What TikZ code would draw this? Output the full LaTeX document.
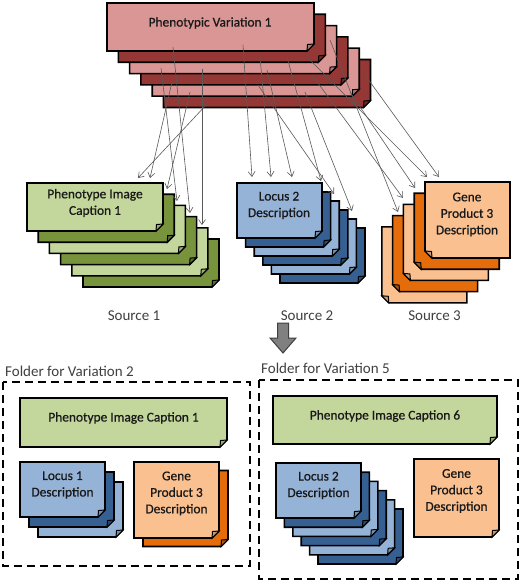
\documentclass[tikz,border=0pt]{standalone}
\usepackage{fontspec}
\setmainfont{Carlito}
\newfontfamily\cardfont[FakeBold=0.7]{Carlito}
\usetikzlibrary{arrows.meta}
\definecolor{redL}{HTML}{D99694}
\definecolor{redD}{HTML}{953735}
\definecolor{redLf}{HTML}{AE7876}
\definecolor{redDf}{HTML}{6E2826}
\definecolor{grnL}{HTML}{C3D69B}
\definecolor{grnD}{HTML}{77933C}
\definecolor{grnLf}{HTML}{9CAB7C}
\definecolor{grnDf}{HTML}{5A7030}
\definecolor{bluL}{HTML}{95B3D7}
\definecolor{bluD}{HTML}{376092}
\definecolor{bluLf}{HTML}{778FAC}
\definecolor{bluDf}{HTML}{294A70}
\definecolor{orgL}{HTML}{FAC090}
\definecolor{orgD}{HTML}{E46C0A}
\definecolor{orgLf}{HTML}{C89A73}
\definecolor{orgDf}{HTML}{B05408}
\definecolor{lbl}{HTML}{404040}
\definecolor{conn}{HTML}{595959}
\tikzset{
  cardline/.style={draw=black,line width=1.6pt,line join=miter},
  cardtext/.style={align=center,inner sep=0pt,text=black!90,font=\cardfont\fontsize{13.4}{16.5}\selectfont},
  lbltext/.style={inner sep=0pt,text=lbl,font=\fontsize{15}{18}\selectfont},
  conn/.style={draw=conn,line width=0.6pt,-{Straight Barb[length=5pt,width=7pt,line width=0.6pt]}},
  folder/.style={draw=black,line width=1.8pt,dash pattern=on 8pt off 5pt},
}
\newcommand\cardR[6]{%
  \filldraw[cardline,fill=#5] (#1,#2) -- (#3,#2) -- (#3,#4-7) -- (#3-7,#4) -- (#1,#4) -- cycle;
  \filldraw[cardline,line width=1pt,fill=#6] (#3-7,#4) -- (#3,#4-7) -- (#3-6.5,#4-6.5) -- cycle;
}
\newcommand\cardL[6]{%
  \filldraw[cardline,fill=#5] (#1,#2) -- (#3,#2) -- (#3,#4) -- (#1+7,#4) -- (#1,#4-7) -- cycle;
  \filldraw[cardline,line width=1pt,fill=#6] (#1+7,#4) -- (#1,#4-7) -- (#1+6.5,#4-6.5) -- cycle;
}
\begin{document}
\begin{tikzpicture}[x=1pt,y=-1pt]
\useasboundingbox (0,0) rectangle (520,583);
\fill[white] (0,0) rectangle (520,583);
% red stack
\foreach \i/\c/\f in {5/redD/redDf,4/redL/redLf,3/redD/redDf,2/redL/redLf,1/redD/redDf,0/redL/redLf}
  {\cardR{107+\i*11.3}{3+\i*11.3}{314+\i*11.3}{51+\i*11.3}{\c}{\f}}
\node[cardtext] (pv1) at (210,23) {Phenotypic Variation 1};
% green stack
\foreach \i/\c/\f in {5/grnD/grnDf,4/grnL/grnLf,3/grnD/grnDf,2/grnL/grnLf,1/grnD/grnDf,0/grnL/grnLf}
  {\cardR{27+\i*11.2}{183+\i*11.2}{163+\i*11.2}{231+\i*11.2}{\c}{\f}}
\node[cardtext] (pic1) at (95,203) {Phenotype Image\\Caption 1};
% blue stack
\foreach \i/\c/\f in {5/bluD/bluDf,4/bluL/bluLf,3/bluD/bluDf,2/bluL/bluLf,1/bluD/bluDf,0/bluL/bluLf}
  {\cardR{237+\i*8.6}{183+\i*9}{322+\i*8.6}{238+\i*9}{\c}{\f}}
\node[cardtext] (loc2) at (279,205.5) {Locus 2\\Description};
% orange stack
\foreach \i/\c/\f in {4/orgL/orgLf,3/orgD/orgDf,2/orgL/orgLf,1/orgD/orgDf,0/orgL/orgLf}
  {\cardL{425-\i*10.8}{182+\i*11.2}{510-\i*10.8}{258+\i*11.2}{\c}{\f}}
\node[cardtext] (gp3) at (467,214.5) {Gene\\Product 3\\Description};
% source labels
\node[lbltext] (src1) at (134,316) {Source 1};
\node[lbltext] (src2) at (307,316) {Source 2};
\node[lbltext] (src3) at (434.5,316) {Source 3};
% big gray arrow
\filldraw[fill=gray!100!white,draw=lbl,line width=1pt]
  (277.5,323) -- (288.5,323) -- (288.5,338) -- (296,338) -- (283,353) -- (270,338) -- (277.5,338) -- cycle;
% folder 2
\node[lbltext,anchor=west] (f2) at (5,371) {Folder for Variation 2};
\draw[folder] (3,382) rectangle (250,566);
\cardR{20}{398}{227}{447}{grnL}{grnLf}
\node[cardtext] (pic1b) at (123.5,418) {Phenotype Image Caption 1};
\foreach \i/\c/\f in {2/bluL/bluLf,1/bluD/bluDf,0/bluL/bluLf}
  {\cardR{20+\i*9}{462+\i*10}{105+\i*9}{517+\i*10}{\c}{\f}}
\node[cardtext] (loc1) at (62.5,485) {Locus 1\\Description};
\foreach \i/\c/\f in {1/orgD/orgDf,0/orgL/orgLf}
  {\cardR{134+\i*9}{462+\i*8.5}{219+\i*9}{538+\i*8.5}{\c}{\f}}
\node[cardtext] (gp3b) at (176.5,493.5) {Gene\\Product 3\\Description};
% folder 5
\node[lbltext,anchor=west] (f5) at (261,368) {Folder for Variation 5};
\draw[folder] (259,380) rectangle (518,579);
\cardR{273}{396}{497}{444}{grnL}{grnLf}
\node[cardtext] (pic6) at (385,416) {Phenotype Image Caption 6};
\foreach \i/\c/\f in {5/bluD/bluDf,4/bluL/bluLf,3/bluD/bluDf,2/bluL/bluLf,1/bluD/bluDf,0/bluL/bluLf}
  {\cardR{276+\i*8.4}{463+\i*9.2}{361+\i*8.4}{518+\i*9.2}{\c}{\f}}
\node[cardtext] (loc2b) at (318.5,485.5) {Locus 2\\Description};
\cardR{414}{459}{499}{537}{orgL}{orgLf}
\node[cardtext] (gp3c) at (456.5,491) {Gene\\Product 3\\Description};
% connector coordinates
\coordinate (g1s) at (207,104); \coordinate (g1e) at (138,178);
\coordinate (g2s) at (172,82);  \coordinate (g2e) at (150,178);
\coordinate (g3s) at (190,92);  \coordinate (g3e) at (167,189);
\coordinate (g4s) at (161,68);  \coordinate (g4e) at (177,201);
\coordinate (g5s) at (173,47);  \coordinate (g5e) at (190,213);
\coordinate (g6s) at (202,69);  \coordinate (g6e) at (202,225);
\coordinate (b1s) at (243,45);  \coordinate (b1e) at (252,177);
\coordinate (b2s) at (260,57);  \coordinate (b2e) at (271,177);
\coordinate (b3s) at (267,70);  \coordinate (b3e) at (292,177);
\coordinate (b4s) at (287,57);  \coordinate (b4e) at (321,181);
\coordinate (b5s) at (258,85);  \coordinate (b5e) at (334,194);
\coordinate (b6s) at (305,92);  \coordinate (b6e) at (352,211);
\coordinate (o1s) at (365,75);  \coordinate (o1e) at (439,177);
\coordinate (o2s) at (308,58);  \coordinate (o2e) at (427,177);
\coordinate (o3s) at (350,92);  \coordinate (o3e) at (415,188);
\coordinate (o4s) at (312,75);  \coordinate (o4e) at (403,198);
\coordinate (o5s) at (330,40);  \coordinate (o5e) at (398,212);
\foreach \a in {g1,g2,g3,g4,g5,g6,b1,b2,b3,b4,b5,b6,o1,o2,o3,o4,o5}
  {\draw[conn] (\a s) -- (\a e);}
\end{tikzpicture}
\end{document}
